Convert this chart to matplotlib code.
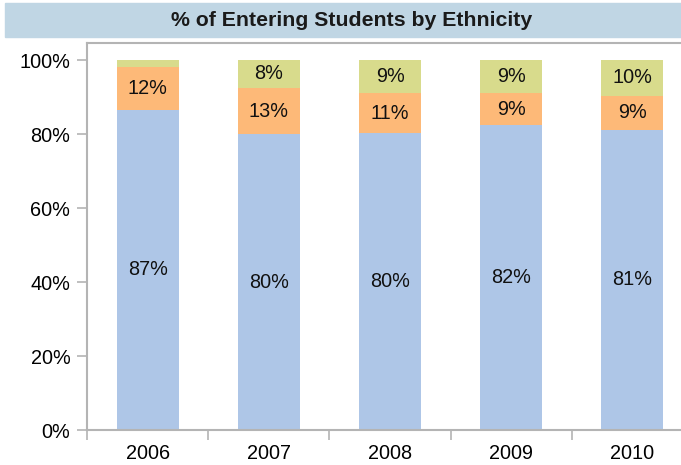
import matplotlib
matplotlib.use('Agg')
import numpy as np
import matplotlib.pyplot as plt
from matplotlib.patches import Rectangle

# data (percent of entering students)
years = ['2006', '2007', '2008', '2009', '2010']
white = [86.6, 79.9, 80.2, 82.4, 81.2]
hispanic = [11.6, 12.6, 10.8, 8.6, 9.2]
other = [1.8, 7.5, 9.0, 9.0, 9.6]
yticks = [0, 20, 40, 60, 80, 100]

c_blue = '#AEC6E7'
c_orange = '#FDB978'
c_green = '#D8DB8C'
c_grid = '#B4B4B4'

plt.rcParams['font.family'] = ['Liberation Sans', 'DejaVu Sans']
fs = 14.3

fig = plt.figure(figsize=(6.81, 4.65), dpi=100)

# title band
fig.patches.append(Rectangle((5/681, 1-37/465), 676/681, 34/465,
                             transform=fig.transFigure, color='#C0D6E4', zorder=0))
fig.text(352/681, 1-21/465, '% of Entering Students by Ethnicity', ha='center', va='center',
         fontsize=15.3, fontweight='bold', color='#1a1a1a')

ax = fig.add_axes([87/681, 1-430/465, 606/681, 387/465])
x = np.arange(len(years))
w = 0.51
b1 = ax.bar(x, white, w, color=c_blue, zorder=2)
bot2 = np.array(white)
b2 = ax.bar(x, hispanic, w, bottom=bot2, color=c_orange, zorder=2)
bot3 = bot2 + np.array(hispanic)
b3 = ax.bar(x, other, w, bottom=bot3, color=c_green, zorder=2)

for vals, bots in [(white, np.zeros(len(x))), (hispanic, bot2), (other, bot3)]:
    for i, v in enumerate(vals):
        if v < 4:
            continue
        ax.text(x[i], bots[i] + v/2, '%.0f%%' % v, ha='center', va='center', fontsize=fs, color='#111111', zorder=3)

ax.set_xlim(-0.5, 4.5)
ax.set_ylim(0, 104.6)
ax.set_yticks(yticks)
ax.set_yticklabels(['%d%%' % t for t in yticks], fontsize=fs)
ax.set_xticks(x)
ax.set_xticklabels(years, fontsize=fs)
ax.set_xticks(np.arange(-0.5, 5, 1), minor=True)
ax.tick_params(axis='x', which='major', length=0, pad=10)
ax.tick_params(axis='x', which='minor', length=7, width=1.2, color=c_grid, direction='out')
ax.tick_params(axis='y', length=7, width=1.2, color=c_grid, pad=5)

for s in ['left', 'bottom', 'top']:
    ax.spines[s].set_color(c_grid)
    ax.spines[s].set_linewidth(1.5)
ax.spines['right'].set_visible(False)

fig.savefig('out.png', dpi=100)
